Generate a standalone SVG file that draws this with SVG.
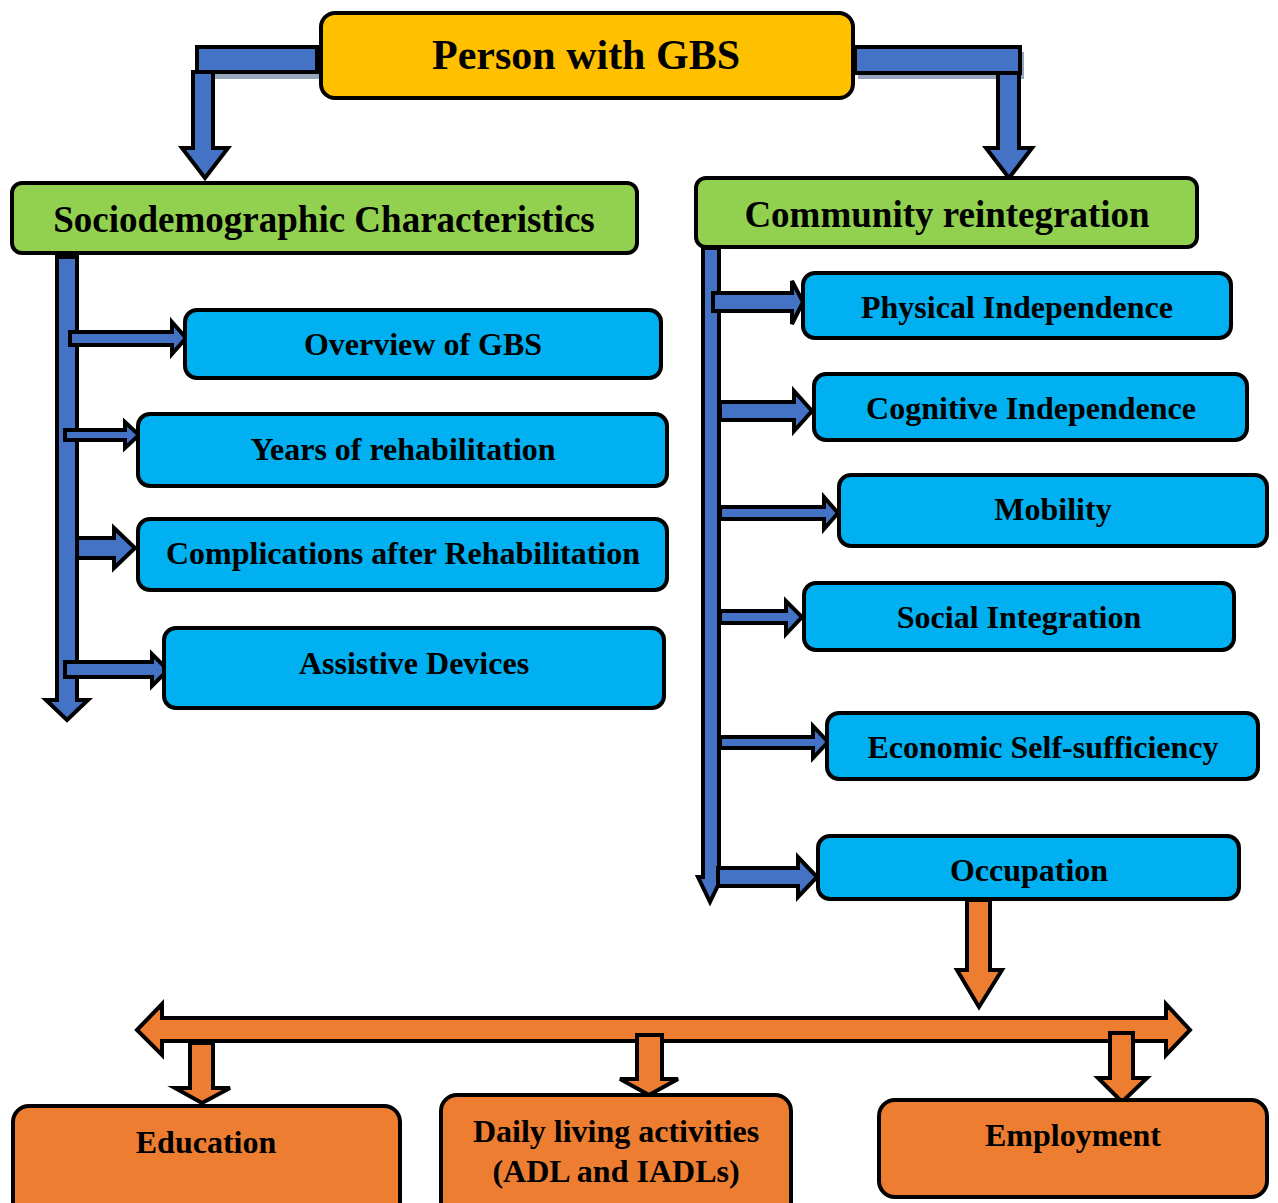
<svg xmlns="http://www.w3.org/2000/svg" width="1278" height="1203" viewBox="0 0 1278 1203">
<style>
.box{stroke:#000;stroke-width:4}
.title{fill:#FFC000}
.green{fill:#92D050}
.blue{fill:#00B0F0}
.orange{fill:#ED7D31}
.conn{fill:#4472C4;stroke:#000;stroke-width:4;stroke-linejoin:miter}
.oconn{fill:#ED7D31;stroke:#000;stroke-width:4;stroke-linejoin:miter}
.shadow{fill:#8497B0;opacity:0.85}
text{font-family:"Liberation Serif","Times New Roman",serif;font-weight:bold;fill:#000;text-anchor:middle}
.t32{font-size:32px}
.t37{font-size:37px}
.t42{font-size:42px}
</style>
<rect width="1278" height="1203" fill="#fff"/>

<g id="connectors">
  <!-- top left -->
  <rect class="shadow" x="201" y="52" width="120" height="27"/>
  <polygon class="conn" points="193,72 213,72 213,148 228,148 205,178 182,148 193,148"/>
  <rect class="conn" x="197" y="47" width="120" height="25"/>
  <!-- top right -->
  <rect class="shadow" x="858" y="52" width="166" height="27"/>
  <polygon class="conn" points="998,73 1019,73 1019,148 1032,148 1009,178 986,148 998,148"/>
  <rect class="conn" x="855" y="47" width="165" height="26"/>

  <!-- left trunk -->
  <polygon class="conn" points="57,257 77,257 77,700 88,700 67,720 46,700 57,700"/>
  <!-- left branches -->
  <polygon class="conn" points="70,332 172,332 172,322 186,338 172,354 172,345 70,345"/>
  <polygon class="conn" points="65,430 125,430 125,422 139,435 125,448 125,440 65,440"/>
  <polygon class="conn" points="77,538 114,538 114,528 135,548 114,568 114,558 77,558"/>
  <polygon class="conn" points="65,662 152,662 152,654 168,670 152,686 152,677 65,677"/>

  <!-- right trunk -->
  <polygon class="conn" points="703,248 719,248 719,877 722,877 710,902 698,877 703,877"/>
  <!-- right branches -->
  <polygon class="conn" points="713,293 792,293 792,281 803,302 792,324 792,311 713,311"/>
  <polygon class="conn" points="720,402 794,402 794,391 812,411 794,431 794,420 720,420"/>
  <polygon class="conn" points="720,507 824,507 824,497 838,513 824,529 824,519 720,519"/>
  <polygon class="conn" points="720,611 786,611 786,601 802,617 786,634 786,623 720,623"/>
  <polygon class="conn" points="720,737 813,737 813,726 828,742 813,758 813,748 720,748"/>
  <polygon class="conn" points="718,868 798,868 798,857 817,877 798,897 798,886 718,886"/>

  <!-- orange -->
  <polygon class="oconn" points="967,900 990,900 990,970 1002,970 979,1007 957,970 967,970"/>
  <polygon class="oconn" points="137,1030 162,1004 162,1018 1166,1018 1166,1004 1190,1030 1166,1055 1166,1041 162,1041 162,1055"/>
  <polygon class="oconn" points="190,1043 213,1043 213,1088 230,1088 202,1103 175,1088 190,1088"/>
  <polygon class="oconn" points="637,1035 662,1035 662,1079 678,1079 649,1095 620,1079 637,1079"/>
  <polygon class="oconn" points="1110,1033 1133,1033 1133,1078 1147,1078 1122,1102 1098,1078 1110,1078"/>
</g>

<g id="node-person">
  <rect class="box title" x="321" y="13" width="532" height="85" rx="14"/>
  <text class="t42" x="586" y="69">Person with GBS</text>
</g>
<g id="node-socio">
  <rect class="box green" x="12" y="183" width="625" height="70" rx="10"/>
  <text class="t37" x="324" y="232">Sociodemographic Characteristics</text>
</g>
<g id="node-community">
  <rect class="box green" x="696" y="178" width="501" height="69" rx="10"/>
  <text class="t37" x="947" y="227">Community reintegration</text>
</g>

<g id="node-overview">
  <rect class="box blue" x="185" y="310" width="476" height="68" rx="12"/>
  <text class="t32" x="423" y="355">Overview of GBS</text>
</g>
<g id="node-years">
  <rect class="box blue" x="138" y="414" width="529" height="72" rx="12"/>
  <text class="t32" x="403" y="460">Years of rehabilitation</text>
</g>
<g id="node-complications">
  <rect class="box blue" x="138" y="519" width="529" height="71" rx="12"/>
  <text class="t32" x="403" y="564">Complications after Rehabilitation</text>
</g>
<g id="node-assistive">
  <rect class="box blue" x="164" y="628" width="500" height="80" rx="12"/>
  <text class="t32" x="414" y="674">Assistive Devices</text>
</g>

<g id="node-physical">
  <rect class="box blue" x="803" y="273" width="428" height="65" rx="12"/>
  <text class="t32" x="1017" y="318">Physical Independence</text>
</g>
<g id="node-cognitive">
  <rect class="box blue" x="814" y="374" width="433" height="66" rx="12"/>
  <text class="t32" x="1031" y="419">Cognitive Independence</text>
</g>
<g id="node-mobility">
  <rect class="box blue" x="839" y="475" width="428" height="71" rx="12"/>
  <text class="t32" x="1053" y="520">Mobility</text>
</g>
<g id="node-social">
  <rect class="box blue" x="804" y="583" width="430" height="67" rx="12"/>
  <text class="t32" x="1019" y="628">Social Integration</text>
</g>
<g id="node-economic">
  <rect class="box blue" x="827" y="713" width="431" height="66" rx="12"/>
  <text class="t32" x="1043" y="758">Economic Self-sufficiency</text>
</g>
<g id="node-occupation">
  <rect class="box blue" x="818" y="836" width="421" height="63" rx="12"/>
  <text class="t32" x="1029" y="881">Occupation</text>
</g>

<g id="node-education">
  <rect class="box orange" x="13" y="1106" width="387" height="120" rx="16"/>
  <text class="t32" x="206" y="1153">Education</text>
</g>
<g id="node-daily">
  <rect class="box orange" x="441" y="1095" width="350" height="130" rx="16"/>
  <text class="t32" x="616" y="1142">Daily living activities</text>
  <text class="t32" x="616" y="1182">(ADL and IADLs)</text>
</g>
<g id="node-employment">
  <rect class="box orange" x="879" y="1100" width="388" height="97" rx="16"/>
  <text class="t32" x="1073" y="1146">Employment</text>
</g>
</svg>
